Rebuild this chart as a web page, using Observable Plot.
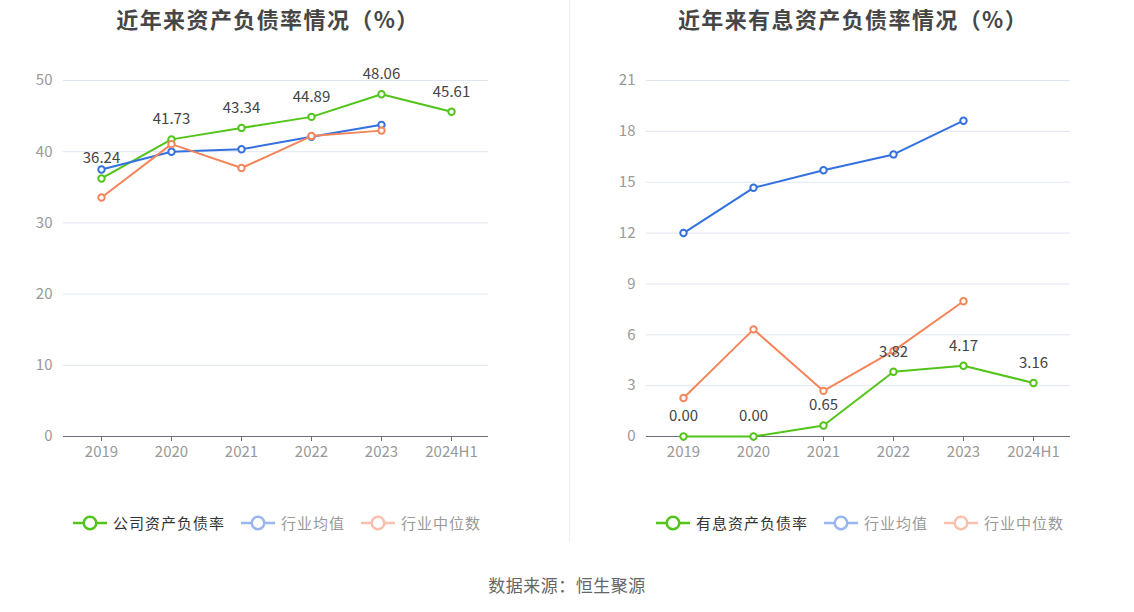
<!DOCTYPE html>
<html>
<head>
<meta charset="utf-8">
<script src="https://cdn.jsdelivr.net/npm/d3@7"></script>
<script src="https://cdn.jsdelivr.net/npm/@observablehq/plot@0.6"></script>
<style>
  html, body { margin: 0; padding: 0; background: #fff; }
  body { width: 1134px; height: 612px; overflow: hidden; font-family: "Noto Sans CJK SC", "Noto Sans", sans-serif; }
  #root { position: relative; width: 1134px; height: 612px; }
  .panel { position: absolute; top: 0; }
  .title { position: absolute; top: 2px; transform: translateX(-50%); white-space: nowrap; font-size: 22px; font-weight: bold; color: #464646; letter-spacing: 1.4px; }
  .legend { position: absolute; top: 512px; display: flex; align-items: center; white-space: nowrap; }
  .item { display: flex; align-items: center; margin-right: 16px; font-size: 15px; letter-spacing: 1px; }
  .item svg { margin-right: 6px; }
  .sep { position: absolute; left: 569px; top: 0; width: 1px; height: 542px; background: #eeeeee; }
  .caption { position: absolute; top: 572px; left: 567px; transform: translateX(-50%); font-size: 17px; color: #666; white-space: nowrap; letter-spacing: 0.5px; }
</style>
</head>
<body>
<div id="root"></div>
<script>
// ---- data ----
const years = ["2019", "2020", "2021", "2022", "2023", "2024H1"];

const debtRatio = [36.24, 41.73, 43.34, 44.89, 48.06, 45.61];
const debtIndustryAvg = [37.49, 40.0, 40.34, 42.1, 43.77];
const debtIndustryMedian = [33.57, 41.06, 37.71, 42.2, 42.96];

const interestDebtRatio = [0.0, 0.0, 0.65, 3.82, 4.17, 3.16];
const interestIndustryAvg = [12.0, 14.67, 15.71, 16.64, 18.63];
const interestIndustryMedian = [2.27, 6.32, 2.69, 5.05, 7.98];

const leftTicks = [0, 10, 20, 30, 40, 50];
const rightTicks = [0, 3, 6, 9, 12, 15, 18, 21];

const leftTitle = "近年来资产负债率情况（%）";
const rightTitle = "近年来有息资产负债率情况（%）";
const leftLegend = ["公司资产负债率", "行业均值", "行业中位数"];
const rightLegend = ["有息资产负债率", "行业均值", "行业中位数"];
const caption = "数据来源：恒生聚源";

const green = "#52c41a";
const blue = "#3370e0";
const orange = "#f5855a";
const font = '"Noto Sans CJK SC", "Noto Sans", sans-serif';

function toRows(vals) { return vals.map((y, i) => ({x: years[i], y})); }

function chart({width, marginLeft, marginRight, ticks, company, avg, median}) {
  const comp = toRows(company), av = toRows(avg), med = toRows(median);
  const series = (rows, color) => [
    Plot.line(rows, {x: "x", y: "y", stroke: color, strokeWidth: 2}),
    Plot.dot(rows, {x: "x", y: "y", r: 3.2, stroke: color, strokeWidth: 2, fill: "white"})
  ];
  return Plot.plot({
    width, height: 470,
    marginTop: 80, marginBottom: 34, marginLeft, marginRight,
    style: {fontFamily: font, fontSize: "15px", background: "transparent", overflow: "visible"},
    x: {type: "point", domain: years, padding: 0.5, label: null},
    y: {domain: [ticks[0], ticks[ticks.length - 1]], label: null},
    marks: [
      Plot.gridY(ticks, {stroke: "#e0e6f1", strokeOpacity: 1}),
      Plot.axisY(ticks, {tickSize: 0, tickPadding: 11, fill: "#999", fontSize: 15}),
      Plot.ruleY([0], {stroke: "#6e7079", strokeWidth: 1}),
      Plot.axisX({tickSize: 5, tickPadding: 5, stroke: "#6e7079", fill: "#999", fontSize: 15}),
      ...series(comp, green),
      ...series(av, blue),
      ...series(med, orange),
      Plot.text(comp, {x: "x", y: "y", text: d => d.y.toFixed(2), dy: -20, fill: "#444", fontSize: 15, lineAnchor: "middle"})
    ]
  });
}

function icon(color, opacity) {
  const ns = "http://www.w3.org/2000/svg";
  const s = document.createElementNS(ns, "svg");
  s.setAttribute("width", 34); s.setAttribute("height", 16);
  s.innerHTML = `<g opacity="${opacity}"><line x1="0" x2="34" y1="8" y2="8" stroke="${color}" stroke-width="2.5"/>` +
    `<circle cx="17" cy="8" r="6.3" fill="white" stroke="${color}" stroke-width="2.5"/></g>`;
  return s;
}

function legend(labels, left) {
  const div = document.createElement("div");
  div.className = "legend";
  div.style.left = left + "px";
  const colors = [green, blue, orange];
  labels.forEach((t, i) => {
    const it = document.createElement("div");
    it.className = "item";
    it.appendChild(icon(colors[i], i === 0 ? 1 : 0.5));
    const sp = document.createElement("span");
    sp.textContent = t;
    sp.style.color = i === 0 ? "#333" : "#999";
    it.appendChild(sp);
    div.appendChild(it);
  });
  return div;
}

const root = document.getElementById("root");

const left = document.createElement("div");
left.className = "panel"; left.style.left = "0px";
left.appendChild(chart({width: 567, marginLeft: 63, marginRight: 79, ticks: leftTicks,
  company: debtRatio, avg: debtIndustryAvg, median: debtIndustryMedian}));
root.appendChild(left);

const right = document.createElement("div");
right.className = "panel"; right.style.left = "567px";
right.appendChild(chart({width: 567, marginLeft: 79, marginRight: 64, ticks: rightTicks,
  company: interestDebtRatio, avg: interestIndustryAvg, median: interestIndustryMedian}));
root.appendChild(right);

const t1 = document.createElement("div"); t1.className = "title"; t1.style.left = "268px"; t1.textContent = leftTitle; root.appendChild(t1);
const t2 = document.createElement("div"); t2.className = "title"; t2.style.left = "853px"; t2.textContent = rightTitle; root.appendChild(t2);

const sep = document.createElement("div"); sep.className = "sep"; root.appendChild(sep);

root.appendChild(legend(leftLegend, 73));
root.appendChild(legend(rightLegend, 656));

const cap = document.createElement("div"); cap.className = "caption"; cap.textContent = caption; root.appendChild(cap);
</script>
</body>
</html>
